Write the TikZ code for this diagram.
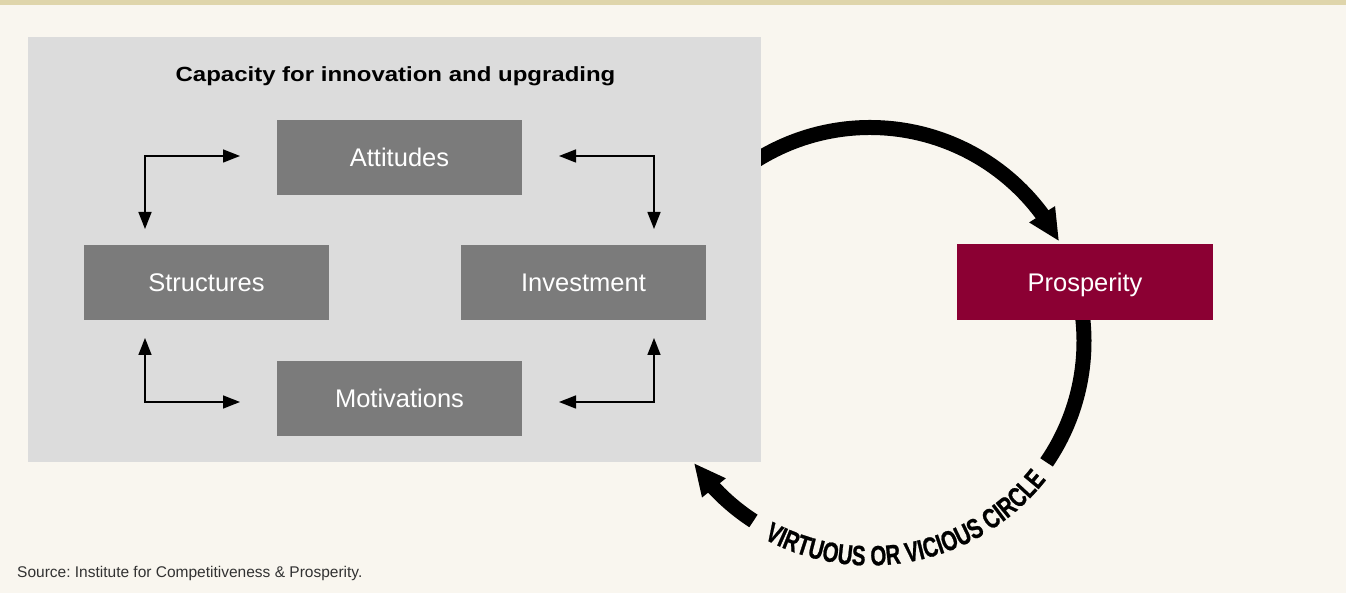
\documentclass[tikz,border=0pt]{standalone}
\usepackage{fontspec}
\setmainfont{Liberation Sans}
\newfontfamily\titlefam[FakeStretch=1.17]{Liberation Sans}
\newfontfamily\circfam[FakeStretch=0.73,FakeBold=0.8]{Liberation Sans Bold}
\newcommand\circtxt{\circfam\fontsize{28}{28}\selectfont}
\usetikzlibrary{arrows.meta,bending,calc,decorations.text}
\definecolor{bgcream}{RGB}{249,246,239}
\definecolor{topband}{RGB}{223,213,171}
\definecolor{panelgray}{RGB}{220,220,220}
\definecolor{boxgray}{RGB}{123,123,123}
\definecolor{prosred}{RGB}{139,0,51}
\definecolor{srcgray}{RGB}{50,50,50}
\begin{document}
\frenchspacing
\begin{tikzpicture}[x=1pt,y=1pt,
  factor/.style={fill=boxgray, text=white, minimum width=245pt, minimum height=75pt,
    inner sep=0pt, text height=18.3pt, text depth=0pt,
    font=\fontsize{25.5}{30}\selectfont},
  link/.style={line width=1.5pt,
    {Triangle[length=17pt,width=13pt]}-{Triangle[length=17pt,width=13pt]}},
  bigarc/.style={line width=15pt},
  bighead/.style={-{Triangle[length=32pt,width=28pt]}}]
% background
\fill[bgcream] (0,0) rectangle (1346,593);
\useasboundingbox (0,0) rectangle (1346,593);
\fill[topband] (0,588) rectangle (1346,593);
% circle centre
\coordinate (C) at (870,251.5);
% upper arc into Prosperity
\draw[bigarc,bighead] ($(C)+(125:214pt)$) arc[start angle=125, end angle=27.9, radius=214pt];
% panel
\node[fill=panelgray, minimum width=733pt, minimum height=425pt, inner sep=0pt, anchor=south west] (panel) at (28,131) {};
\node[anchor=base, font=\titlefam\bfseries\fontsize{20.5}{24}\selectfont] (title) at (395.5,511.5) {Capacity for innovation and upgrading};
% boxes
\node[factor] (att) at (399.5,435.5) {Attitudes};
\node[factor] (str) at (206.5,310.5) {Structures};
\node[factor] (inv) at (583.5,310.5) {Investment};
\node[factor] (mot) at (399.5,194.5) {Motivations};
% connector end points
\coordinate (tlA) at (145,364);
\coordinate (tlB) at (240,437);
\coordinate (trA) at (559,437);
\coordinate (trB) at (654,364);
\coordinate (blA) at (145,255);
\coordinate (blB) at (240,191);
\coordinate (brA) at (559,191);
\coordinate (brB) at (654,255);
\draw[link] (tlA) |- (tlB);
\draw[link] (trA) -| (trB);
\draw[link] (blA) |- (blB);
\draw[link] (brA) -| (brB);
% right arc below Prosperity
\draw[bigarc] ($(C)+(12:214pt)$) arc[start angle=12, end angle=-34.4, radius=214pt];
\node[fill=prosred, text=white, minimum width=256pt, minimum height=76pt, inner sep=0pt,
  text height=18.3pt, text depth=0pt, font=\fontsize{25.5}{30}\selectfont] (pros) at (1085,311) {Prosperity};
% lower-left arc back to panel
\draw[bigarc,bighead] ($(C)+(-123:214pt)$) arc[start angle=-123, end angle=-145.4, radius=214pt];
% curved label
\path[decorate, decoration={text along path, text align=center,
  text={|\circtxt|VIRTUOUS OR VICIOUS CIRCLE}}]
  ($(C)+(-120:224pt)$) arc[start angle=-120, end angle=-36.4, radius=224pt];
% source
\node[anchor=base west, text=srcgray, inner sep=0pt, font=\fontsize{15.5}{18}\selectfont] (src) at (17,15) {Source: Institute for Competitiveness \& Prosperity.};
\end{tikzpicture}
\end{document}
